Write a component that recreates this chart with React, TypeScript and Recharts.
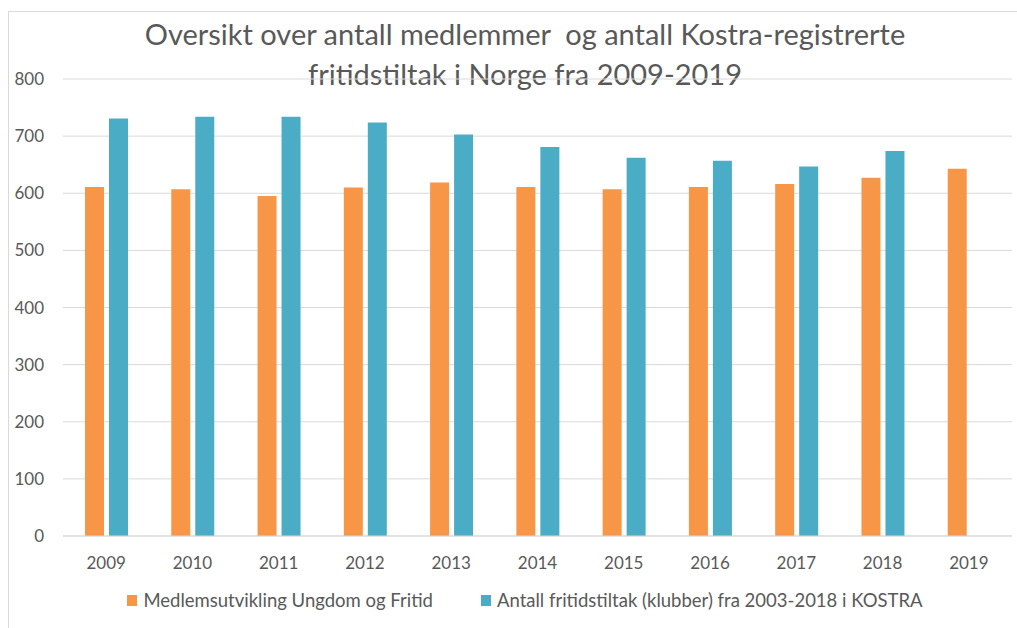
import React from 'react';
import { BarChart, Bar, XAxis, YAxis, CartesianGrid } from 'recharts';

const years = ['2009', '2010', '2011', '2012', '2013', '2014', '2015', '2016', '2017', '2018', '2019'];
const medlemmer = [611, 607, 595, 610, 619, 611, 607, 611, 616, 627, 643];
const klubber: (number | null)[] = [731, 734, 734, 724, 703, 681, 662, 657, 647, 674, null];
const yTicks = [0, 100, 200, 300, 400, 500, 600, 700, 800];

const seriesNames = [
  'Medlemsutvikling Ungdom og Fritid',
  'Antall fritidstiltak (klubber) fra 2003-2018 i KOSTRA',
];
const seriesColors = ['#F79646', '#4BACC6'];

const data = years.map((year, i) => ({ year, medlemmer: medlemmer[i], klubber: klubber[i] }));

const FONT = 'Lato, "Noto Sans", sans-serif';
const TEXT = '#595959';

export default function App() {
  return (
    <div style={{ position: 'absolute', left: 0, top: 0, width: 1017, height: 628, overflow: 'hidden', background: '#fff', fontFamily: FONT }}>
      {/* chart frame */}
      <div style={{ position: 'absolute', left: 8, top: 11, width: 1030, height: 640, border: '1px solid #d9d9d9' }} />

      <div style={{ position: 'absolute', left: 0, top: 14, width: 1050, textAlign: 'center', color: TEXT, fontSize: 29, lineHeight: '40px' }}>
        Oversikt over antall medlemmer&nbsp; og antall Kostra-registrerte
        <br />
        fritidstiltak i Norge fra 2009-2019
      </div>

      <div style={{ position: 'absolute', left: 0, top: 0 }}>
        <BarChart width={1017} height={628} data={data} margin={{ top: 79, right: 5, left: 0, bottom: 62 }} barSize={19} barGap={5}>
          <CartesianGrid vertical={false} stroke="#d9d9d9" />
          <XAxis
            dataKey="year"
            axisLine={{ stroke: '#d9d9d9' }}
            tickLine={false}
            tickMargin={15}
            tick={{ fill: TEXT, fontSize: 17, fontFamily: FONT }}
            height={30}
          />
          <YAxis
            domain={[0, 800]}
            ticks={yTicks}
            width={63}
            axisLine={false}
            tickLine={false}
            tickMargin={13}
            tick={{ fill: TEXT, fontSize: 17, fontFamily: FONT }}
          />
          <Bar dataKey="medlemmer" name={seriesNames[0]} fill={seriesColors[0]} isAnimationActive={false} />
          <Bar dataKey="klubber" name={seriesNames[1]} fill={seriesColors[1]} isAnimationActive={false} />
        </BarChart>
      </div>

      <div style={{ position: 'absolute', left: 0, top: 589, width: 1050, display: 'flex', justifyContent: 'center', gap: 48, color: TEXT, fontSize: 18.5 }}>
        {seriesNames.map((name, i) => (
          <div key={name} style={{ display: 'flex', alignItems: 'center' }}>
            <span style={{ display: 'inline-block', width: 10, height: 11, background: seriesColors[i], marginRight: 6 }} />
            <span>{name}</span>
          </div>
        ))}
      </div>
    </div>
  );
}
